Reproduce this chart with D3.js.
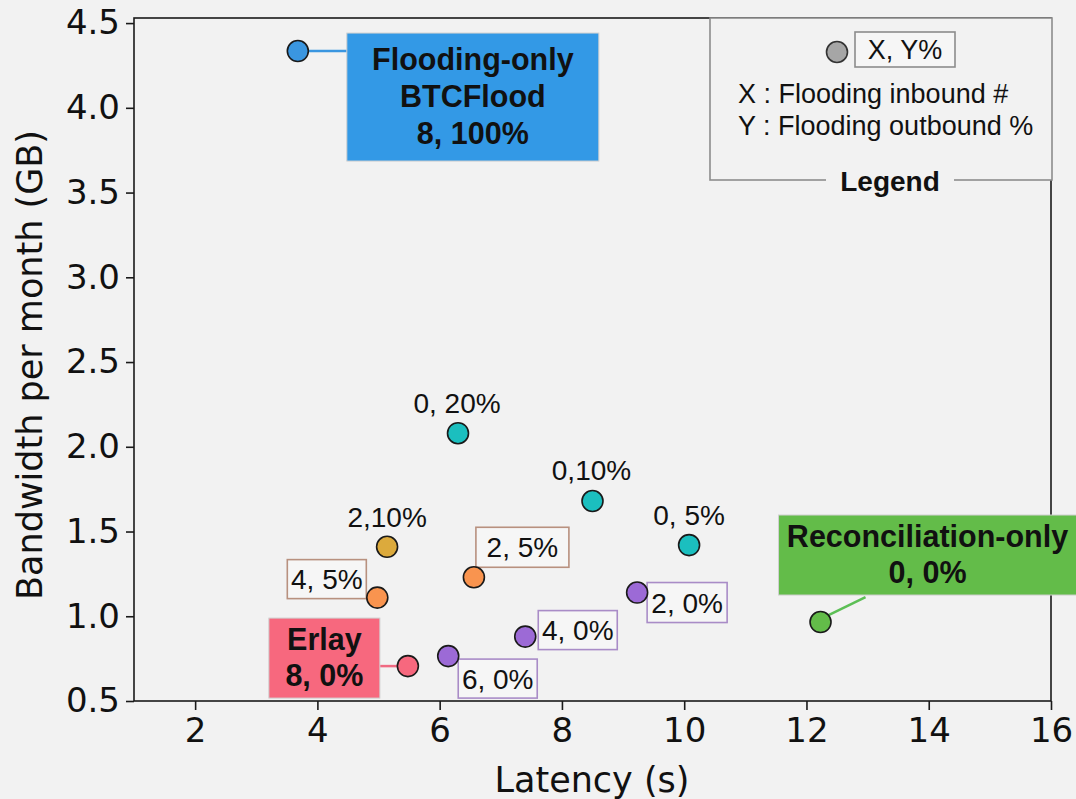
<!DOCTYPE html>
<html>
<head>
<meta charset="utf-8">
<script src="https://cdn.jsdelivr.net/npm/d3@7"></script>
<style>
  html, body { margin: 0; padding: 0; background: #f2f2f2; }
  svg { display: block; }
</style>
</head>
<body>
<svg id="chart" width="1076" height="799"></svg>
<script>
// Latency vs. monthly bandwidth for flooding/reconciliation configurations
const configNames = ["Flooding-only", "0, 20%", "0,10%", "0, 5%", "2,10%", "2, 5%", "4, 5%",
                     "2, 0%", "4, 0%", "6, 0%", "Erlay", "Reconciliation-only"];
const latencySec = [3.68, 6.30, 8.50, 10.08, 5.14, 6.56, 4.98, 9.23, 7.40, 6.14, 5.48, 12.23];
const bandwidthGB = [4.335, 2.08, 1.68, 1.42, 1.41, 1.23, 1.11, 1.14, 0.88, 0.765, 0.706, 0.966];
const groupOf = ["flood", "in0", "in0", "in0", "in2", "in2", "in4", "out0", "out0", "out0", "erlay", "recon"];
const xTicks = [2, 4, 6, 8, 10, 12, 14, 16];
const yTicks = [0.5, 1.0, 1.5, 2.0, 2.5, 3.0, 3.5, 4.0, 4.5];

const fill = {
  flood: "#3a96e0", in0: "#1bbfbf", in2: "#dcaa3c", in4: "#f9944f",
  out0: "#9c6ad6", erlay: "#f7687e", recon: "#63bc49"
};
// "2,10%" point is gold, "2, 5%" is orange like "4, 5%"
const pointFill = groupOf.map((g, i) => i === 5 ? fill.in4 : fill[g]);

const svg = d3.select("#chart");
const W = 1076, H = 799;
const margin = { top: 18, right: 25, bottom: 98, left: 134 };

const x = d3.scaleLinear().domain([1, 16]).range([margin.left, W - margin.right]);
const y = d3.scaleLinear().domain([0.5, 4.53]).range([H - margin.bottom, margin.top]);

const tickFont = "'DejaVu Sans', sans-serif";
const annFont = "'Liberation Sans', Arial, Helvetica, sans-serif";

// frame
svg.append("rect")
  .attr("x", margin.left).attr("y", margin.top)
  .attr("width", W - margin.left - margin.right)
  .attr("height", H - margin.top - margin.bottom)
  .attr("fill", "none").attr("stroke", "#1a1a1a").attr("stroke-width", 1.6);

// axes
const xAxis = svg.append("g")
  .attr("transform", `translate(0,${H - margin.bottom})`)
  .call(d3.axisBottom(x).tickValues(xTicks).tickSizeOuter(0).tickSize(9).tickPadding(8).tickFormat(d3.format("d")));
const yAxis = svg.append("g")
  .attr("transform", `translate(${margin.left},0)`)
  .call(d3.axisLeft(y).tickValues(yTicks).tickSizeOuter(0).tickSize(8).tickPadding(6).tickFormat(d3.format(".1f")));
[xAxis, yAxis].forEach(g => {
  g.select(".domain").remove();
  g.selectAll(".tick line").attr("stroke", "#1a1a1a").attr("stroke-width", 1.6);
  g.selectAll(".tick text").attr("fill", "#111").style("font-family", tickFont).style("font-size", "34px");
});
xAxis.selectAll(".tick text").attr("dy", "0.71em");

svg.append("text")
  .attr("x", 592).attr("y", 792)
  .attr("text-anchor", "middle")
  .style("font-family", tickFont).style("font-size", "35px").attr("fill", "#111")
  .text("Latency (s)");
svg.append("text")
  .attr("transform", "translate(42,365) rotate(-90)")
  .attr("text-anchor", "middle")
  .style("font-family", tickFont).style("font-size", "35px").attr("fill", "#111")
  .text("Bandwidth per month (GB)");

// label layout relative to each point (pixels)
const layout = [
  { kind: "big", box: [49, -18, 301, 110], bg: "#3399e6", lines: ["Flooding-only", "BTCFlood", "8, 100%"], base: [19, 56, 93], link: [[10, 0], [49, 0]] },
  { kind: "plain", dx: -1, dy: -20 },
  { kind: "plain", dx: -1, dy: -21 },
  { kind: "plain", dx: 0, dy: -20 },
  { kind: "plain", dx: 0, dy: -20 },
  { kind: "box", box: [2, -50, 95, -10], stroke: "#b8917f" },
  { kind: "box", box: [-90, -38, -11, 1], stroke: "#b8917f" },
  { kind: "box", box: [10, -10, 90, 30], stroke: "#a98cc7" },
  { kind: "box", box: [13, -26, 92, 13], stroke: "#a98cc7" },
  { kind: "box", box: [10, 3, 89, 42], stroke: "#a98cc7" },
  { kind: "big", box: [-139, -48, -28, 32], bg: "#f7687e", lines: ["Erlay", "8, 0%"], base: [-16, 20], link: [[-28, 0], [-10, 0]] },
  { kind: "big", box: [-42, -107, 256, -27], bg: "#63bc49", lines: ["Reconciliation-only", "0, 0%"], base: [-75, -39], link: [[6, -6], [45, -25]] }
];
const linkColor = ["#3a96e0", null, null, null, null, null, null, null, null, null, "#f06a82", "#5cbf55"];

const pts = configNames.map((name, i) => ({ name, px: x(latencySec[i]), py: y(bandwidthGB[i]), i }));

const ann = svg.append("g");
pts.forEach(p => {
  const L = layout[p.i];
  const g = ann.append("g").attr("transform", `translate(${p.px},${p.py})`);
  if (L.kind === "plain") {
    g.append("text").attr("x", L.dx).attr("y", L.dy).attr("text-anchor", "middle")
      .style("font-family", annFont).style("font-size", "28px").attr("fill", "#111")
      .text(p.name);
  } else if (L.kind === "box") {
    const [x0, y0, x1, y1] = L.box;
    g.append("rect").attr("x", x0).attr("y", y0).attr("width", x1 - x0).attr("height", y1 - y0)
      .attr("fill", "#f6f6f6").attr("stroke", L.stroke).attr("stroke-width", 1.6);
    g.append("text").attr("x", (x0 + x1) / 2).attr("y", (y0 + y1) / 2 + 10).attr("text-anchor", "middle")
      .style("font-family", annFont).style("font-size", "28px").attr("fill", "#111")
      .text(p.name);
  } else {
    const [x0, y0, x1, y1] = L.box;
    g.append("line")
      .attr("x1", L.link[0][0]).attr("y1", L.link[0][1]).attr("x2", L.link[1][0]).attr("y2", L.link[1][1])
      .attr("stroke", linkColor[p.i]).attr("stroke-width", 2.5);
    g.append("rect").attr("x", x0).attr("y", y0).attr("width", x1 - x0).attr("height", y1 - y0)
      .attr("fill", L.bg).attr("stroke", "#d0d0d0").attr("stroke-width", 1);
    L.lines.forEach((t, k) => {
      g.append("text").attr("x", (x0 + x1) / 2).attr("y", L.base[k]).attr("text-anchor", "middle")
        .style("font-family", annFont).style("font-size", "30.5px").style("font-weight", "bold").attr("fill", "#111")
        .text(t);
    });
  }
});

// points
svg.append("g").selectAll("circle").data(pts).join("circle")
  .attr("cx", d => d.px).attr("cy", d => d.py).attr("r", 10.5)
  .attr("fill", d => pointFill[d.i]).attr("stroke", "#1a1a1a").attr("stroke-width", 1.6);

// legend
const leg = svg.append("g");
leg.append("rect").attr("x", 710).attr("y", 18).attr("width", 342).attr("height", 162)
  .attr("fill", "#f2f2f2").attr("stroke", "#8c8c8c").attr("stroke-width", 1.6);
leg.append("rect").attr("x", 826).attr("y", 170).attr("width", 128).attr("height", 20).attr("fill", "#f2f2f2");
leg.append("text").attr("x", 890).attr("y", 191).attr("text-anchor", "middle")
  .style("font-family", annFont).style("font-size", "28px").style("font-weight", "bold").attr("fill", "#111")
  .text("Legend");
leg.append("circle").attr("cx", 837).attr("cy", 52).attr("r", 10.5)
  .attr("fill", "#a6a6a6").attr("stroke", "#333").attr("stroke-width", 1.6);
leg.append("rect").attr("x", 855).attr("y", 32).attr("width", 100).attr("height", 35)
  .attr("fill", "#f6f6f6").attr("stroke", "#8c8c8c").attr("stroke-width", 1.6);
leg.append("text").attr("x", 905).attr("y", 59).attr("text-anchor", "middle")
  .style("font-family", annFont).style("font-size", "27px").attr("fill", "#111").text("X, Y%");
leg.append("text").attr("x", 738).attr("y", 103)
  .style("font-family", annFont).style("font-size", "27px").attr("fill", "#111").text("X : Flooding inbound #");
leg.append("text").attr("x", 738).attr("y", 135)
  .style("font-family", annFont).style("font-size", "27px").attr("fill", "#111").text("Y : Flooding outbound %");
</script>
</body>
</html>
